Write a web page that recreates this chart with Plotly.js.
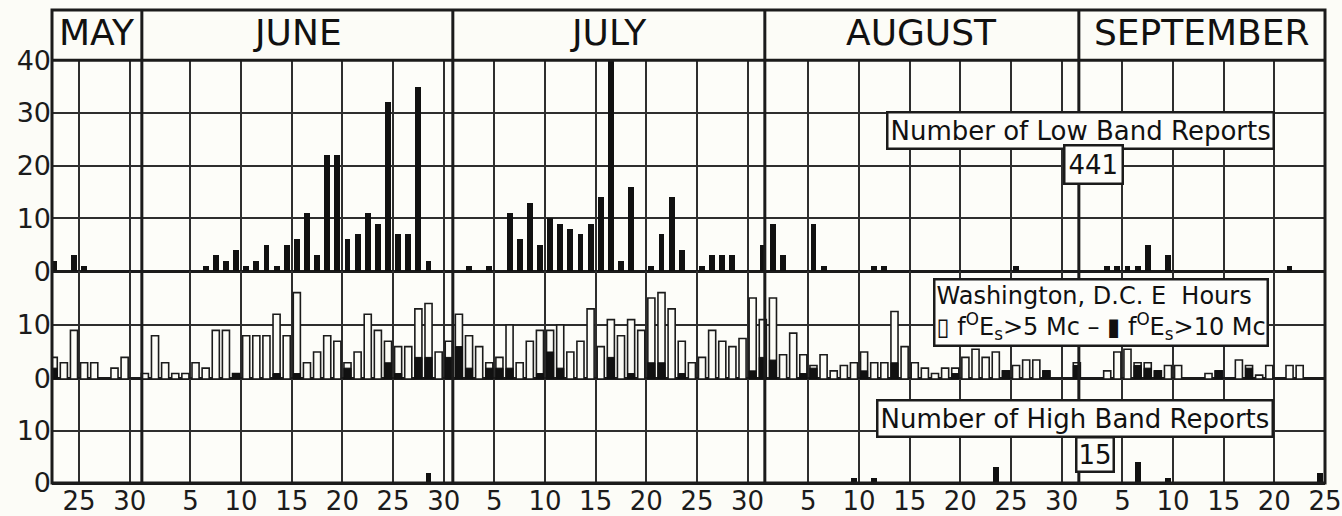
<!DOCTYPE html>
<html>
<head>
<meta charset="utf-8">
<script src="https://cdn.plot.ly/plotly-3.0.1.min.js"></script>
<style>html,body{margin:0;padding:0;background:#fcfcf7;}#chart{width:1342px;height:516px;}</style>
</head>
<body>
<div id="chart"></div>
<script>
// Day index: 0 = May 31, 1 = June 1, 31 = July 1, 62 = Aug 1, 93 = Sept 1
// ---- Number of Low Band Reports (total 441) ----
const lowDays = [-9,-7,-6, 6,7,8,9,10,11,12,13,14,15,16,17,18,19,20,21,22,23,24,25,26,27,28,
  32,34,36,37,38,39,40,41,42,43,44,45,46,47,48,50,51,52,53,55,56,57,58,61,
  62,63,66,67,72,73,86, 95,96,97,98,99,101,113];
const lowVals = [2,3,1, 1,3,2,4,1,2,5,1,5,6,11,3,22,22,6,7,11,9,32,7,7,35,2,
  1,1,11,6,13,5,10,9,8,7,9,14,40,2,16,1,7,14,4,1,3,3,3,5,
  9,3,9,1,1,1,1, 1,1,1,1,5,3,1];

// ---- Washington, D.C. E hours: foEs > 5 Mc (open bars) ----
const eh5Days = [-9,-8,-7,-6,-5,-3,-2,0,1,2,3,4,5,6,7,8,9,10,11,12,13,14,15,16,17,18,19,20,
  21,22,23,24,25,26,27,28,29,30,31,32,33,34,35,36,37,38,39,40,41,42,43,44,45,46,47,48,49,50,
  51,52,53,54,55,56,57,58,59,60,61,62,63,64,65,66,67,68,69,70,71,72,73,74,75,76,77,78,79,80,
  81,82,83,84,85,86,87,88,89,92,95,96,97,98,99,100,101,102,105,106,108,109,110,111,113,114];
const eh5Vals = [4,3,9,3,3,2,4,1,8,3,1,1,3,2,9,9,1,8,8,8,12,8,16,3,5,8,7,3,
  5,12,9,7,6,6,13,14,5,7,12,8,6,3,4,10,3,7,9,9,10,5,7,13,6,11,8,11,9,15,
  16,13,7,3,4,9,7,6,7.5,15,11,15,4.5,8.5,4.5,2.5,4.5,1.5,2.5,3,5,3,3,12.5,6,3,2,1,2,2,
  4,5.5,4,5,1.5,2.5,3.5,3.5,1.5,3,1.5,5,5.5,3,3,1.5,2.5,2.5,1,1.5,3.5,2.5,0.7,2.5,2.5,2.5];

// ---- foEs > 10 Mc (filled bars) ----
const eh10Days = [-9,9,13,15,20,24,25,27,28,30,31,32,34,35,36,39,40,41,46,48,50,51,53,
  60,61,62,65,66,71,74,80,85,89,92,98,99,100,106,109];
const eh10Vals = [2,1,1,1,2,3,1,4,4,4,6,2,2,2,2,1,5,2,4,1,3,3,1,
  1.5,4,3.5,1,2,1.5,3,1,1.5,1.5,2.5,2.5,2,1.5,1.5,2];

// ---- Number of High Band Reports (total 15) ----
const highDays = [28,70,72,84,98,101,116];
const highVals = [2,1,1,3,4,1,2];

// ---- Axis ticks / months ----
const tickDays  = [-6,-1,5,10,15,20,25,30,35,40,45,50,55,60,66,71,76,81,86,91,97,102,107,112,117];
const tickTexts = ['25','30','5','10','15','20','25','30','5','10','15','20','25','30','5','10','15','20','25','30','5','10','15','20','25'];
const monthNames = ['MAY','JUNE','JULY','AUGUST','SEPTEMBER'];
const monthStarts = [0.2, 30.9, 61.7, 92.7];

const xRange = [-8.67, 117];
const ink = '#1b1b1b';
const paperBg = '#fcfcf7';
const FONT = 'DejaVu Sans, Liberation Sans, sans-serif';

const dom3 = [0, 0.22], dom2 = [0.22, 0.448], dom1 = [0.448, 0.894];

const traces = [
  {type:'bar', x:lowDays, y:lowVals, xaxis:'x', yaxis:'y', width:0.58, offset:0.21,
   marker:{color:'#111', line:{width:0}}, hoverinfo:'skip'},
  {type:'bar', x:eh5Days, y:eh5Vals, xaxis:'x', yaxis:'y2', width:0.7, offset:0.15,
   marker:{color:paperBg, line:{color:ink, width:1.6}}, hoverinfo:'skip'},
  {type:'bar', x:eh10Days, y:eh10Vals, xaxis:'x', yaxis:'y2', width:0.7, offset:0.15,
   marker:{color:'#111', line:{color:'#111', width:1}}, hoverinfo:'skip'},
  {type:'bar', x:highDays, y:highVals, xaxis:'x', yaxis:'y3', width:0.58, offset:0.21,
   marker:{color:'#111', line:{width:0}}, hoverinfo:'skip'}
];

const yCommon = {anchor:'x', showgrid:true, gridcolor:'#2e2e2e', gridwidth:2,
  zeroline:true, zerolinecolor:ink, zerolinewidth:3, ticks:'', showline:false,
  tickfont:{size:27, color:ink, family:FONT}, fixedrange:true};

// month boundaries -> label positions (midpoints)
const bounds = [xRange[0]].concat(monthStarts, [xRange[1]]);
const monthAnn = monthNames.map((m,i)=>({
  text:m, xref:'x', yref:'paper', x:(bounds[i]+bounds[i+1])/2, y:(1+dom1[1])/2 + 0.005,
  xanchor:'center', yanchor:'middle', showarrow:false,
  font:{size:36, color:'#111', family:FONT}
}));

const boxAnn = (text, x, y, size, extra) => Object.assign({
  text, xref:'paper', yref:'paper', x, y, xanchor:'center', yanchor:'middle',
  showarrow:false, bgcolor:'#fdfdfa', bordercolor:ink, borderwidth:2.5, borderpad:2,
  font:{size, color:'#111', family:FONT}
}, extra||{});

const annotations = monthAnn.concat([
  boxAnn('Number of Low Band Reports', 0.8076, 0.7463, 26),
  boxAnn('441', 0.8178, 0.6744, 26, {borderpad:3}),
  boxAnn('Washington, D.C. E  Hours<br>\u25AF f<sup>O</sup>E<sub>s</sub>&gt;5 Mc \u2013 \u25AE f<sup>O</sup>E<sub>s</sub>&gt;10 Mc',
         0.824, 0.3615, 24, {align:'left', borderpad:1}),
  boxAnn('Number of High Band Reports', 0.8036, 0.1374, 26),
  boxAnn('15', 0.8193, 0.0592, 26, {borderpad:1})
]);

const shapes = [
  {type:'rect', xref:'paper', yref:'paper', x0:0, x1:1, y0:0, y1:1, line:{color:ink, width:3}},
  {type:'line', xref:'paper', yref:'paper', x0:0, x1:1, y0:dom1[1], y1:dom1[1], line:{color:ink, width:3}}
].concat(monthStarts.map(d=>({type:'line', xref:'x', yref:'paper', x0:d, x1:d, y0:0, y1:1,
  line:{color:ink, width:3}})));

const layout = {
  width:1342, height:516,
  margin:{l:52, r:17, t:10, b:33, pad:0},
  paper_bgcolor:paperBg, plot_bgcolor:'#fdfdf9',
  showlegend:false, barmode:'overlay', bargap:0,
  font:{family:FONT, color:ink},
  xaxis:{range:xRange, anchor:'y3', tickmode:'array', tickvals:tickDays, ticktext:tickTexts,
    showgrid:true, gridcolor:'#2e2e2e', gridwidth:2, zeroline:false, ticks:'', showline:false,
    tickfont:{size:26, color:ink, family:FONT}, tickangle:0, fixedrange:true},
  yaxis:Object.assign({}, yCommon, {domain:dom1, range:[0,40], tickvals:[0,10,20,30,40], ticktext:['0','10','20','30','40']}),
  yaxis2:Object.assign({}, yCommon, {domain:dom2, range:[0,20], tickvals:[0,10], ticktext:['0','10']}),
  yaxis3:Object.assign({}, yCommon, {domain:dom3, range:[0,20], tickvals:[0,10], ticktext:['0','10']}),
  shapes, annotations
};

Plotly.newPlot('chart', traces, layout, {staticPlot:true, displayModeBar:false});
</script>
</body>
</html>
